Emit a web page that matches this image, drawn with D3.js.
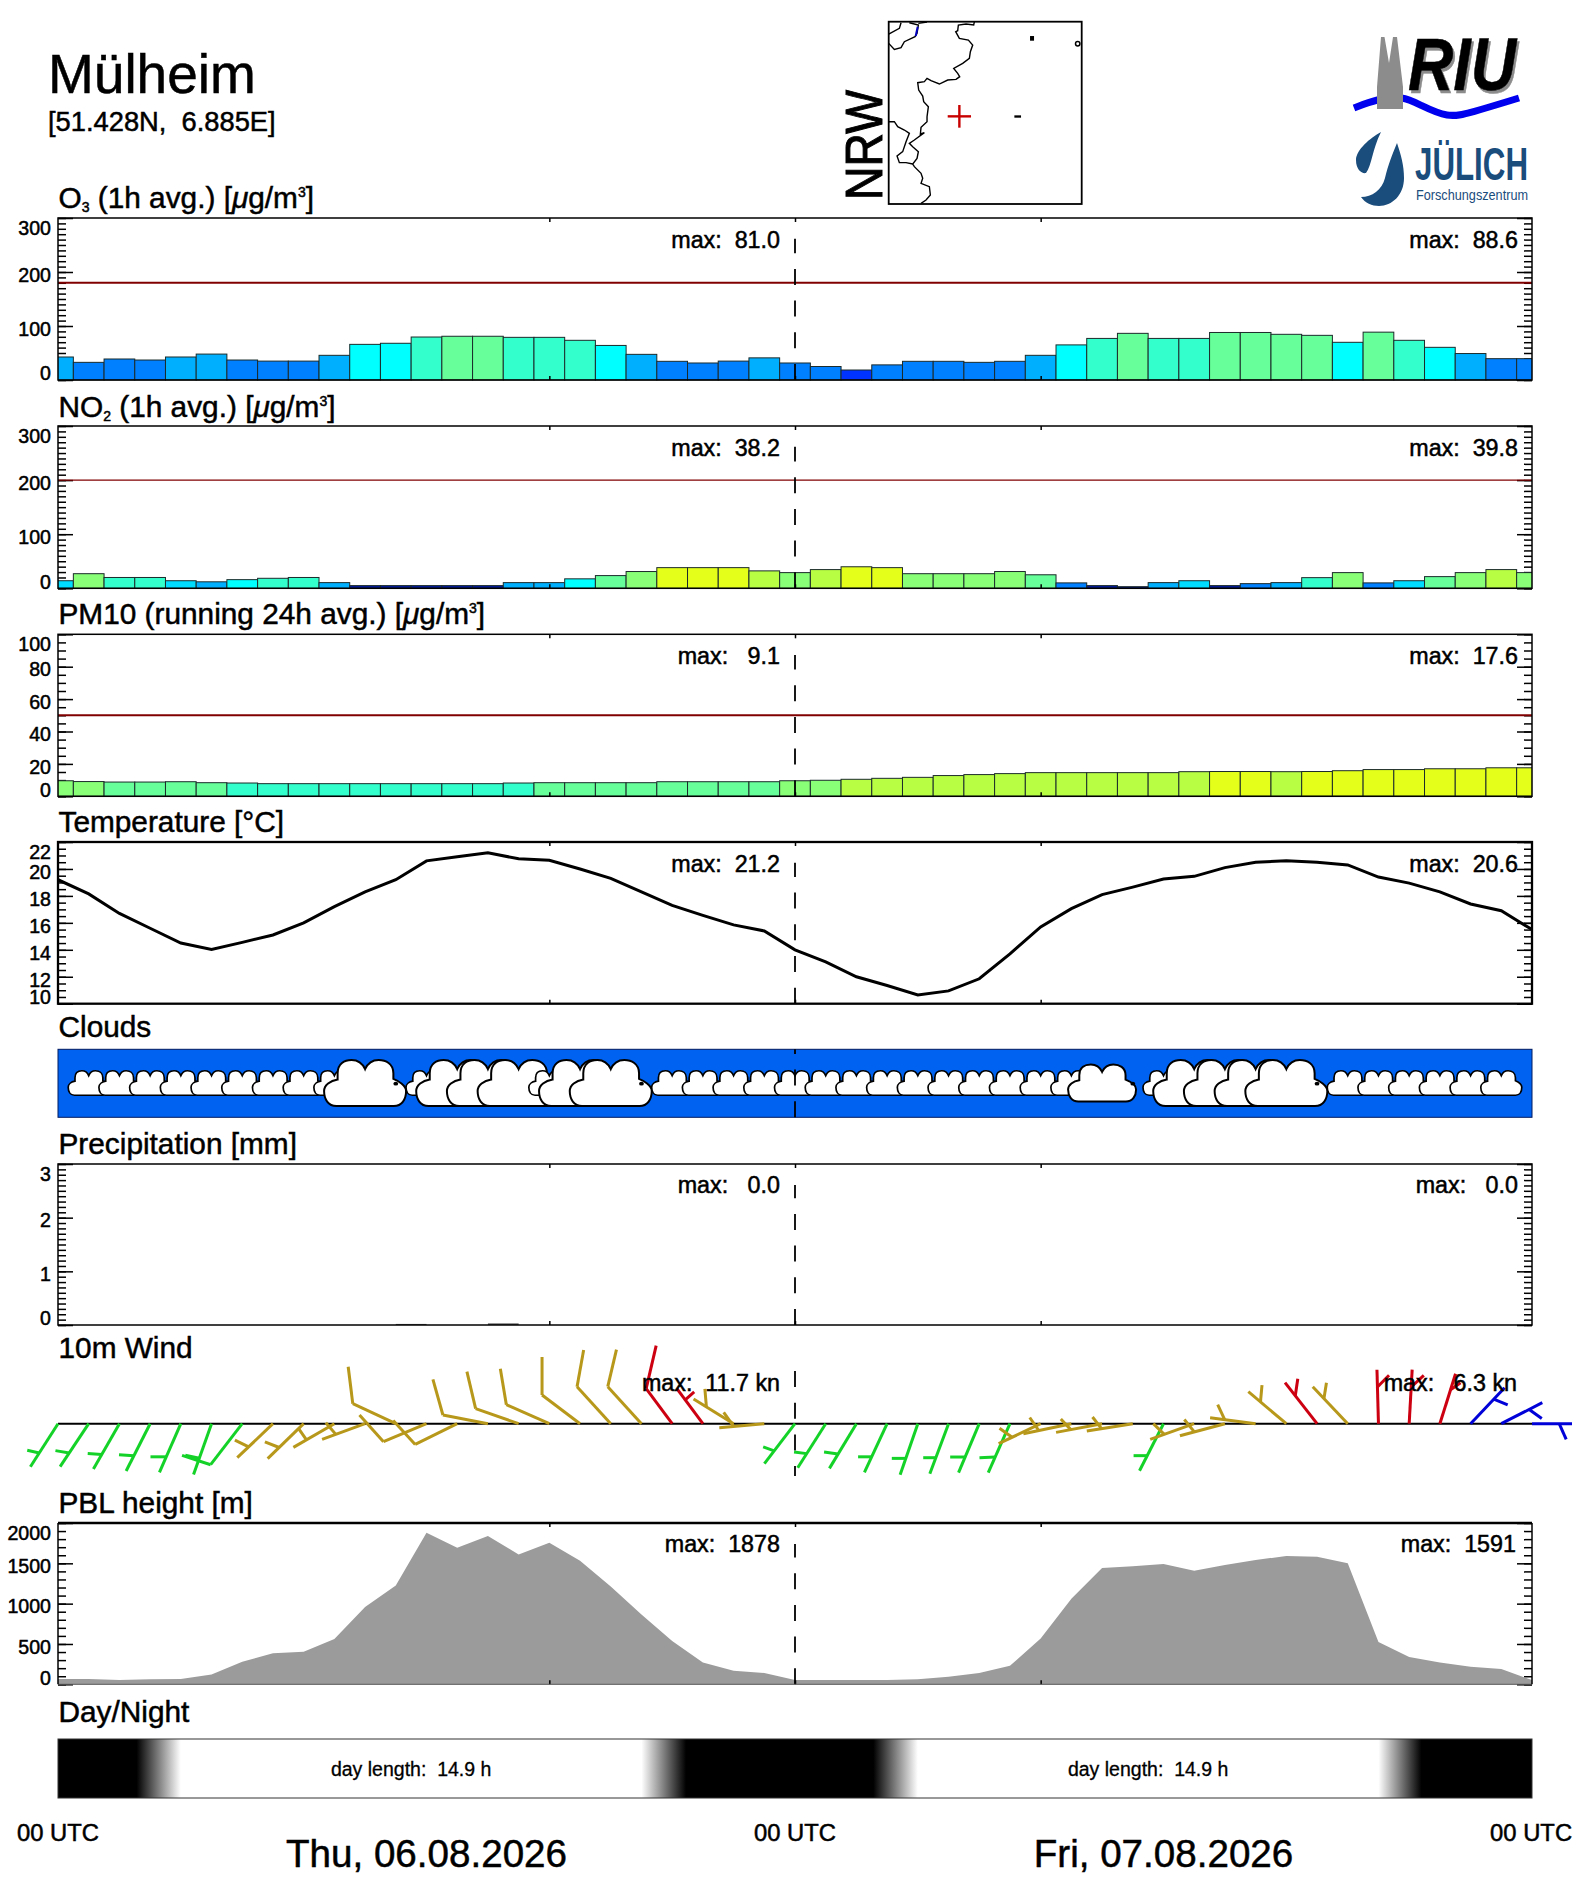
<!DOCTYPE html>
<html>
<head>
<meta charset="utf-8">
<script src="https://cdn.jsdelivr.net/npm/d3@7"></script>
<style>
body { margin: 0; background: #fff; }
svg { display: block; }
text { font-family: "Liberation Sans", Arial, sans-serif; fill: #000; white-space: pre; stroke: #000; stroke-width: 0.5; }
</style>
</head>
<body>
<div id="chart"></div>
<script>
// hourly values, 00 UTC Thu to 00 UTC Sat (49 values)
var o3Values = [42.6,32.7,38.9,37,42.6,48,37,35,35,45.7,66,68,79.6,81,81,79,79,73.5,64,47.5,34.6,31.5,35,41,31.5,
    25,18.5,28,34.6,34.6,32.7,34.6,45.7,65,77,86.4,77,77,88,88,84.6,82.7,69.8,88.6,73.5,60.5,49,39.5,39.5];
var no2Values = [14,27,20,20,14,12,16,18.5,20,10.5,5,5,5,5,5,10.5,10.5,17.5,23.5,31,38.2,38.2,38.2,32.2,29,
    34.6,39.8,38.2,27,27,27,31,25,10,5,3,10.5,14,5,8.6,10.5,19.7,29,10,14,21.6,29,34.6,29];
var pm10Values = [9.6,9.1,8.8,8.8,9,8.4,8.2,7.8,7.8,7.8,7.8,7.8,7.8,7.8,7.8,8.2,8.4,8.4,8.4,8.4,9,9,9,9,9.6,
    9.9,10.5,11.1,11.7,12.8,13.4,14,14.6,14.6,14.6,14.6,14.6,15.2,15.3,15.3,15.2,15.3,15.8,16.5,16.5,17,17,17.6,17.6];
var tempValues = [19.2,18.15,16.7,15.6,14.5,14.02,14.55,15.1,16,17.2,18.3,19.2,20.6,20.9,21.2,20.75,20.65,20,19.3,18.3,17.3,16.55,15.85,15.4,14,
    13.1,12,11.35,10.65,10.95,11.85,13.7,15.7,17.05,18.1,18.65,19.25,19.45,20.1,20.5,20.6,20.5,20.3,19.4,18.95,18.3,17.4,16.9,15.5];
var pblValues = [66,66,53,62,66,123,280,386,403,563,957,1224,1878,1693,1840,1610,1754,1532,1212,867,538,271,168,140,53,
    53,53,53,62,94,140,230,567,1060,1442,1463,1491,1409,1479,1541,1591,1582,1500,526,337,271,218,189,53];
var precipHours = [11,14];
var precipAmounts = [0.02,0.03];

// 0 none, 1 dot, 2 small, 3 medium, 4 large
var cloudLevels = [0,2,2,2,2,2,2,2,2,2,4,1,2,4,4,4,2,4,4,1,2,2,2,2,2,
    2,2,2,2,2,2,2,2,2,3,1,2,4,4,4,4,1,2,2,2,2,2,2,0];
var cloudWidths = [0,0,41,68,82];
var cloudHeights = [0,0,24.5,37,46];

// wind shaft and barb vectors per hour, y up
var windU = [-27.6,-28.6,-26,-24,-21.4,-18,-31.6,-35.7,-36,-41,-43,-43,-43,-42,-45,-43,-43,-38,-33.7,-33.7,-26,-26,-40,-45,-30.6,
    -28,-27,-22.7,-17.7,-18.7,-20.7,-21.7,-42,-48,-46,-46,-24,-44,-45,-45.5,-38,-32,-35,-1.5,3,15.7,34,41,40];
var windV = [-43,-43,-45.3,-47.3,-48.7,-50.7,-41,-34,-35,-23.7,-15.7,20,-18,-20.7,8.7,15,19,28.7,37,37,35,35,24.7,-4,-40,
    -44,-44.7,-48.7,-51,-50,-49,-49,-20,-10,-8.7,-7.3,-47,-15.7,-12,6,32,41,37,54,54,50,36,21,0];
var barbU = [-12,-13.8,-14,-14.8,-15.8,-14,-28.6,-13.8,-14.3,-7.7,-10,-4.6,-24,-22,-10,-8.7,-6,0,6.6,8.7,10,9,-1.5,-10,-11,
    -12.6,-14,-13.6,-14,-12.6,-15,-15.7,-12.6,-9,-10,-9,-13.6,-11,-10,-7,1.5,2.5,2.5,11.6,12.6,10,14,12.6,7];
var barbV = [2.7,2.3,1,1,0,3,9.3,6.7,5.7,11,11.7,37,26.7,24,35.7,37,36,38,36.7,37,43,8,18,14,4,
    1.7,2,0,0,0,0,-0.7,9,13,10.7,11.7,0,10.7,12.3,15,16.7,17,15.7,11.7,11.7,7,-5.7,-9,-15.7];
var windSector = ["g","g","g","g","g","g","g","y","y","y","y","y","y","y","y","y","y","y","y","y","r","r","y","y","g",
    "g","g","g","g","g","g","g","y","y","y","y","g","y","y","y","y","r","y","r","r","r","b","b","b"];

var dayHours = [0,2.56,4,19,20.45,26.55,28,43,44.4,48];
var dayLevels = [0,0,1,1,0,0,1,1,0,0];

var palette = ["#00189c","#0033ff","#0080ff","#00b0ff","#00dcff","#00ffff","#33ffcc","#66ff99","#88ff77","#b8ff44","#e4ff1a"];
var o3Breaks = [10,20,40.5,60,70,80];
var o3Colors = [0,1,2,3,5,6,7];
var no2Breaks = [6.5,10.3,12.5,15,18,21,26,32,37];
var no2Colors = [0,2,3,4,5,6,7,8,9,10];
var pm10Breaks = [8.3,9.05,10.2,15.25];
var pm10Colors = [6,7,8,9,10];

var borderMain = [[400,35],[398,45],[375,42],[352,45],[350,62],[344,65],[355,85],[382,90],[395,105],[388,125],[385,145],[365,160],[338,175],[350,190],[356,200],[345,208],[320,210],[295,222],[270,212],[258,205],[250,215],[230,218],[233,240],[245,258],[248,275],[262,290],[258,320],[258,335],[240,352],[238,372],[250,368],[220,390],[205,400],[215,410],[232,425],[228,445],[215,462],[220,470],[240,490],[245,505],[240,520],[265,530],[268,555],[255,570],[240,580]];
var borderWest = [[143,335],[160,335],[170,350],[190,360],[205,370],[195,395],[185,425],[168,438],[175,458],[195,458],[215,462]];
var borderCorner = [[143,72],[175,55],[180,38]];
var borderEnclave = [[205,38],[232,45],[228,70],[222,80],[190,95],[180,113],[160,118],[143,100]];
var borderTop = [[232,40],[258,36]];
var riverLine = [[230,50],[224,78]];

var xLeft = 58, xRight = 1532;
var x = d3.scaleLinear().domain([0,48]).range([xLeft,xRight]);
var hourWidth = x(1) - x(0);
var unit = d3.scaleLinear().domain([0,1]).range([0,1]);

var svg = d3.select("#chart").append("svg").attr("width",1572).attr("height",1889);

var clip = svg.append("clipPath").attr("id","plot-clip").append("rect")
    .attr("x",xLeft).attr("y",0).attr("width",xRight-xLeft).attr("height",1889);


/*
 *  Panel helpers
 */

function drawTitle(y, parts) {
    var t = svg.append("text").attr("x",58.5).attr("y",y).style("font-size","29.8px");
    var shift = 0;
    parts.forEach(function(p) {
        var s = t.append("tspan").text(p.text);
        if (shift) { s.attr("dy",-shift); shift = 0; }
        if (p.sub) { s.style("font-size","14px").attr("dy",4); shift = 4; }
        if (p.sup) { s.style("font-size","14px").attr("dy",-11); shift = -11; }
        if (p.italic) { s.style("font-style","italic"); }
    });
}

function drawMax(y, left, right, rightEnd) {
    svg.append("text").attr("x",780).attr("y",y).attr("text-anchor","end").style("font-size","23.3px").text(left);
    svg.append("text").attr("x",rightEnd || 1518).attr("y",y).attr("text-anchor","end").style("font-size","23.3px").text(right);
}

function drawFrame(top, bottom, weight) {
    svg.append("rect").attr("x",xLeft).attr("y",top).attr("width",xRight-xLeft).attr("height",bottom-top)
        .attr("fill","none").attr("stroke","#000").attr("stroke-width",weight);
}

function drawCenterDash(top, bottom) {
    svg.append("line").attr("x1",x(24)).attr("x2",x(24)).attr("y1",bottom).attr("y2",top)
        .attr("stroke","#000").attr("stroke-width",1.8).attr("stroke-dasharray","16,15.7");
}

// y axis on both sides, labels pulled inside the panel at the ends
function drawYAxis(y, major, minor, format) {
    var domain = y.domain();
    var left = svg.append("g").attr("transform","translate("+xLeft+",0)");
    var right = svg.append("g").attr("transform","translate("+xRight+",0)");
    [left, right].forEach(function(g, side) {
        var make = side === 0 ? d3.axisLeft : d3.axisRight;
        var axisMinor = make(y).tickValues(minor).tickSize(-8).tickFormat("");
        var axisMajor = make(y).tickValues(major).tickSize(-15).tickPadding(7);
        if (side === 0) { axisMajor.tickFormat(format || d3.format("d")); } else { axisMajor.tickFormat(""); }
        var a = g.append("g").call(axisMinor);
        var b = g.append("g").call(axisMajor);
        [a,b].forEach(function(s) {
            s.select(".domain").remove();
            s.selectAll("line").attr("stroke","#000").attr("stroke-width",1.5);
        });
        b.selectAll("text")
            .style("font-size","19.6px")
            .style("font-family",null)
            .attr("y",function(d) {
                if (d === domain[1]) return 10;
                if (d === domain[0]) return -6.5;
                return 3;
            });
    });
}

function drawXTicks(top, bottom) {
    var ticks = [16,24,32];
    var b = svg.append("g").attr("transform","translate(0,"+bottom+")")
        .call(d3.axisBottom(x).tickValues(ticks).tickSize(-4).tickFormat(""));
    var t = svg.append("g").attr("transform","translate(0,"+top+")")
        .call(d3.axisTop(x).tickValues(ticks).tickSize(-4).tickFormat(""));
    [b,t].forEach(function(s) {
        s.select(".domain").remove();
        s.selectAll("line").attr("stroke","#000").attr("stroke-width",1.5);
    });
}

function drawBars(values, y, breaks, colorIdx) {
    var color = d3.scaleThreshold().domain(breaks).range(colorIdx.map(function(i) { return palette[i]; }));
    svg.append("g").attr("clip-path","url(#plot-clip)").selectAll("rect").data(values).enter().append("rect")
        .attr("x",function(d,i) { return x(i-0.5); })
        .attr("width",hourWidth)
        .attr("y",function(d) { return y(d); })
        .attr("height",function(d) { return y(0)-y(d); })
        .attr("fill",function(d) { return color(d); })
        .attr("stroke","#1c2b2b")
        .attr("stroke-width",1);
}

function drawLimit(y, value, weight) {
    svg.append("line").attr("x1",xLeft).attr("x2",xRight).attr("y1",y(value)).attr("y2",y(value))
        .attr("stroke","#800000").attr("stroke-width",weight);
}


/*
 *  Header: station name, map, logos
 */

svg.append("text").attr("x",48).attr("y",93).style("font-size","55px").text("Mülheim");
svg.append("text").attr("x",48).attr("y",131).style("font-size","27.3px").text("[51.428N,  6.885E]");

var mapX = d3.scaleLinear().domain([143,722]).range([888.7,1081.7]);
var mapY = d3.scaleLinear().domain([35,582]).range([21.7,204]);
var mapLine = d3.line().x(function(d) { return mapX(d[0]); }).y(function(d) { return mapY(d[1]); });
var mapGroup = svg.append("g");
[borderMain,borderWest,borderCorner,borderEnclave,borderTop].forEach(function(b) {
    mapGroup.append("path").attr("d",mapLine(b)).attr("fill","none").attr("stroke","#000").attr("stroke-width",1.4);
});
mapGroup.append("path").attr("d",mapLine(riverLine)).attr("fill","none").attr("stroke","#0000c0").attr("stroke-width",2);
mapGroup.append("rect").attr("x",mapX(567)).attr("y",mapY(78)).attr("width",mapX(579)-mapX(567)).attr("height",mapY(92)-mapY(78));
mapGroup.append("rect").attr("x",mapX(520)).attr("y",mapY(316)).attr("width",mapX(540)-mapX(520)).attr("height",mapY(323)-mapY(316));
mapGroup.append("circle").attr("cx",mapX(710)).attr("cy",mapY(101)).attr("r",2.2).attr("fill","none").attr("stroke","#000").attr("stroke-width",1.5);
mapGroup.append("rect").attr("x",mapX(143)).attr("y",mapY(35)).attr("width",mapX(722)-mapX(143)).attr("height",mapY(582)-mapY(35))
    .attr("fill","none").attr("stroke","#000").attr("stroke-width",1.8);
mapGroup.append("line").attr("x1",mapX(320)).attr("x2",mapX(390)).attr("y1",mapY(319)).attr("y2",mapY(319)).attr("stroke","#c80000").attr("stroke-width",2.4);
mapGroup.append("line").attr("x1",mapX(355)).attr("x2",mapX(355)).attr("y1",mapY(285)).attr("y2",mapY(353)).attr("stroke","#c80000").attr("stroke-width",2.4);
svg.append("text").attr("transform","translate(881.5,200) rotate(-90)")
    .attr("textLength",110).attr("lengthAdjust","spacingAndGlyphs").style("font-size","51px").style("stroke-width",1).text("NRW");

// RIU logo
var riuLine = d3.line().curve(d3.curveBasis);
svg.append("path").attr("d",riuLine([[1354,108],[1377,99],[1403,96],[1420,105],[1448,118],[1470,113],[1519,98]]))
    .attr("fill","none").attr("stroke","#0000ee").attr("stroke-width",7);
svg.append("path").attr("d","M1377,109 L1377,87 L1381,37 L1384.5,37 L1389,63 L1393,37 L1397,37 L1403,87 L1403,109 Z").attr("fill","#8c8c8c");
svg.append("text").attr("x",1410).attr("y",92.5).attr("textLength",108).attr("lengthAdjust","spacingAndGlyphs")
    .style("font-size","74px").style("font-weight","bold").style("font-style","italic").style("fill","#8c8c8c").style("stroke","#8c8c8c").text("RIU");
svg.append("text").attr("x",1408).attr("y",90).attr("textLength",108).attr("lengthAdjust","spacingAndGlyphs")
    .style("font-size","74px").style("font-weight","bold").style("font-style","italic").text("RIU");

// Juelich logo
var juelichBlue = "#1a4c7c";
svg.append("path").attr("fill",juelichBlue).attr("d","M1381,132 C1370,138 1356,150 1356,160 C1356,170 1362,174 1366,173 C1372,165 1372,150 1381,132 Z");
svg.append("path").attr("fill",juelichBlue).attr("d","M1397,143 C1401,155 1404,165 1404,178 C1404,195 1392,206 1379,206 C1372,206 1365,203 1361,197 C1372,197 1382,190 1385,178 C1388,165 1392,155 1397,143 Z");
svg.append("text").attr("x",1415).attr("y",180).attr("textLength",113).attr("lengthAdjust","spacingAndGlyphs")
    .style("font-size","47px").style("font-weight","bold").style("fill",juelichBlue).style("stroke","none").text("JÜLICH");
svg.append("text").attr("x",1416).attr("y",200).attr("textLength",112).attr("lengthAdjust","spacingAndGlyphs")
    .style("font-size","14px").style("fill",juelichBlue).style("stroke","none").text("Forschungszentrum");


/*
 *  O3, NO2, PM10 bars
 */

var yO3 = d3.scaleLinear().domain([0,300]).range([380,218]);
var yNo2 = d3.scaleLinear().domain([0,300]).range([588.3,426]);
var yPm10 = d3.scaleLinear().domain([0,100]).range([796.3,634.3]);
var titleEnd = [{text:" [" },{text:"μ",italic:true},{text:"g/m"},{text:"3",sup:true},{text:"]"}];

drawTitle(208,[{text:"O"},{text:"3",sub:true},{text:" (1h avg.)"}].concat(titleEnd));
drawYAxis(yO3,d3.range(0,301,100),d3.range(0,301,10));
drawBars(o3Values,yO3,o3Breaks,o3Colors);
drawLimit(yO3,180,2);
drawCenterDash(238.7,380);
drawXTicks(218,380);
drawFrame(218,380,1.5);
drawMax(248,"max:  81.0","max:  88.6");

drawTitle(416.7,[{text:"NO"},{text:"2",sub:true},{text:" (1h avg.)"}].concat(titleEnd));
drawYAxis(yNo2,d3.range(0,301,100),d3.range(0,301,10));
drawBars(no2Values,yNo2,no2Breaks,no2Colors);
drawLimit(yNo2,200,1.2);
drawCenterDash(446.7,588.3);
drawXTicks(426,588.3);
drawFrame(426,588.3,1.5);
drawMax(456,"max:  38.2","max:  39.8");

drawTitle(624,[{text:"PM10 (running 24h avg.)"}].concat(titleEnd));
drawYAxis(yPm10,d3.range(0,101,20),d3.range(0,101,5));
drawBars(pm10Values,yPm10,pm10Breaks,pm10Colors);
drawLimit(yPm10,50,2);
drawCenterDash(655,796.3);
drawXTicks(634.3,796.3);
drawFrame(634.3,796.3,1.5);
drawMax(664,"max:   9.1","max:  17.6");


/*
 *  Temperature
 */

var yTemp = d3.scaleLinear().domain([10,22]).range([1003.7,842]);
var tempLine = d3.line().x(function(d,i) { return x(i); }).y(function(d) { return yTemp(d); });

drawTitle(832,[{text:"Temperature [°C]"}]);
drawYAxis(yTemp,d3.range(10,23,2),d3.range(10,22.01,0.5));
svg.append("path").attr("clip-path","url(#plot-clip)").attr("d",tempLine(tempValues))
    .attr("fill","none").attr("stroke","#000").attr("stroke-width",3);
drawCenterDash(862.7,1003.7);
drawXTicks(842,1003.7);
drawFrame(842,1003.7,2.3);
drawMax(871.7,"max:  21.2","max:  20.6");


/*
 *  Clouds
 */

var cloudTop = 1049.3, cloudBottom = 1117.3, cloudMid = 1083;
var cloudPath = "M-0.7,1 L0.7,1 C0.9,1 1,0.7 1,0.35 C1,0.1 0.8,-0.1 0.69,-0.18 L0.69,-0.42 C0.69,-0.85 0.5,-1 0.33,-1 C0.15,-1 0.05,-0.8 0,-0.6 C-0.05,-0.8 -0.15,-1 -0.33,-1 C-0.5,-1 -0.67,-0.85 -0.67,-0.42 L-0.67,-0.15 C-0.85,-0.1 -1,0.1 -1,0.35 C-1,0.7 -0.9,1 -0.7,1 Z";

drawTitle(1037,[{text:"Clouds"}]);
svg.append("rect").attr("x",xLeft).attr("y",cloudTop).attr("width",xRight-xLeft).attr("height",cloudBottom-cloudTop)
    .attr("fill","#0062f0").attr("stroke","#001a60").attr("stroke-width",1);
var cloudGroup = svg.append("g");
cloudLevels.forEach(function(level, i) {
    if (level === 1) {
        cloudGroup.append("ellipse").attr("cx",x(i)).attr("cy",cloudMid+0.7).attr("rx",2.4).attr("ry",1.9).attr("fill","#000");
    } else if (level > 1) {
        cloudGroup.append("path").attr("d",cloudPath)
            .attr("transform","translate("+x(i)+","+cloudMid+") scale("+(cloudWidths[level]/2)+","+(cloudHeights[level]/2)+")")
            .attr("fill","#fff").attr("stroke","#000").attr("stroke-width",level === 2 ? 1.7 : 2)
            .attr("vector-effect","non-scaling-stroke");
    }
});
drawCenterDash(cloudTop,cloudBottom);


/*
 *  Precipitation
 */

var yPrecip = d3.scaleLinear().domain([0,3]).range([1325,1164]);

drawTitle(1154,[{text:"Precipitation [mm]"}]);
drawYAxis(yPrecip,d3.range(0,4,1),d3.range(0,3.01,0.1));
svg.append("g").selectAll("rect").data(precipAmounts).enter().append("rect")
    .attr("x",function(d,i) { return x(precipHours[i]); })
    .attr("width",hourWidth)
    .attr("y",function(d) { return yPrecip(d); })
    .attr("height",function(d) { return yPrecip(0)-yPrecip(d); })
    .attr("fill","#555");
drawCenterDash(1185,1325);
drawXTicks(1164,1325);
drawFrame(1164,1325,1.5);
drawMax(1193,"max:   0.0","max:   0.0");


/*
 *  10m wind barbs
 */

var windY = 1423.7;
var windColor = d3.scaleOrdinal().domain(["g","y","r","b"]).range(["#14d228","#b8981a","#cc0010","#0000d8"]);

drawTitle(1358,[{text:"10m Wind"}]);
svg.append("line").attr("x1",x(24)).attr("x2",x(24)).attr("y1",1371).attr("y2",1476)
    .attr("stroke","#000").attr("stroke-width",1.8).attr("stroke-dasharray","16,15.7");
svg.append("line").attr("x1",xLeft).attr("x2",xRight).attr("y1",windY).attr("y2",windY).attr("stroke","#000").attr("stroke-width",2);
var windGroup = svg.append("g");
windU.forEach(function(u, i) {
    var px = x(i);
    var tipX = px + unit(u), tipY = windY - unit(windV[i]);
    // long barbs sit at the end of the shaft, short ones further in
    var at = Math.sqrt(barbU[i]*barbU[i] + barbV[i]*barbV[i]) > 22 ? 1 : 0.68;
    var baseX = px + unit(u)*at, baseY = windY - unit(windV[i])*at;
    windGroup.append("line").attr("x1",px).attr("y1",windY).attr("x2",tipX).attr("y2",tipY)
        .attr("stroke",windColor(windSector[i])).attr("stroke-width",3);
    windGroup.append("line").attr("x1",baseX).attr("y1",baseY).attr("x2",baseX+unit(barbU[i])).attr("y2",baseY-unit(barbV[i]))
        .attr("stroke",windColor(windSector[i])).attr("stroke-width",3);
});
drawMax(1390.7,"max:  11.7 kn","max:   6.3 kn",1517);


/*
 *  PBL height
 */

var yPbl = d3.scaleLinear().domain([0,2000]).range([1684.3,1523]);
var pblArea = d3.area().x(function(d,i) { return x(i); }).y0(yPbl(0)).y1(function(d) { return yPbl(d); });

drawTitle(1512.7,[{text:"PBL height [m]"}]);
drawYAxis(yPbl,d3.range(0,2001,500),d3.range(0,2001,100));
svg.append("path").attr("d",pblArea(pblValues)).attr("fill","#9b9b9b");
drawCenterDash(1544,1684.3);
drawXTicks(1523,1684.3);
svg.append("line").attr("x1",xLeft).attr("x2",xRight).attr("y1",1523).attr("y2",1523).attr("stroke","#000").attr("stroke-width",2.3);
svg.append("line").attr("x1",xLeft).attr("x2",xRight).attr("y1",1684.3).attr("y2",1684.3).attr("stroke","#555").attr("stroke-width",1);
svg.append("line").attr("x1",xLeft).attr("x2",xLeft).attr("y1",1523).attr("y2",1684.3).attr("stroke","#000").attr("stroke-width",1.5);
svg.append("line").attr("x1",xRight).attr("x2",xRight).attr("y1",1523).attr("y2",1684.3).attr("stroke","#000").attr("stroke-width",1.5);
drawMax(1551.7,"max:  1878","max:  1591",1516);


/*
 *  Day/Night
 */

var grad = svg.append("defs").append("linearGradient").attr("id","day-night");
dayHours.forEach(function(h, i) {
    var g = Math.round(dayLevels[i]*255);
    grad.append("stop").attr("offset",(h/48*100)+"%").attr("stop-color",d3.rgb(g,g,g).formatHex());
});

drawTitle(1722,[{text:"Day/Night"}]);
svg.append("rect").attr("x",xLeft).attr("y",1739).attr("width",xRight-xLeft).attr("height",59)
    .attr("fill","url(#day-night)").attr("stroke","#333").attr("stroke-width",1);
svg.append("text").attr("x",x(11.5)).attr("y",1775.5).attr("text-anchor","middle").style("font-size","19.5px").style("stroke-width",0.3).text("day length:  14.9 h");
svg.append("text").attr("x",x(35.5)).attr("y",1775.5).attr("text-anchor","middle").style("font-size","19.5px").style("stroke-width",0.3).text("day length:  14.9 h");


/*
 *  Time labels
 */

[0,24,47.97].forEach(function(h) {
    svg.append("text").attr("x",x(h)).attr("y",1840.5).attr("text-anchor","middle").style("font-size","23.8px").text("00 UTC");
});
svg.append("text").attr("x",x(12)).attr("y",1866.7).attr("text-anchor","middle").style("font-size","38.6px").text("Thu, 06.08.2026");
svg.append("text").attr("x",x(36)).attr("y",1866.7).attr("text-anchor","middle").style("font-size","38.6px").text("Fri, 07.08.2026");
</script>
</body>
</html>
